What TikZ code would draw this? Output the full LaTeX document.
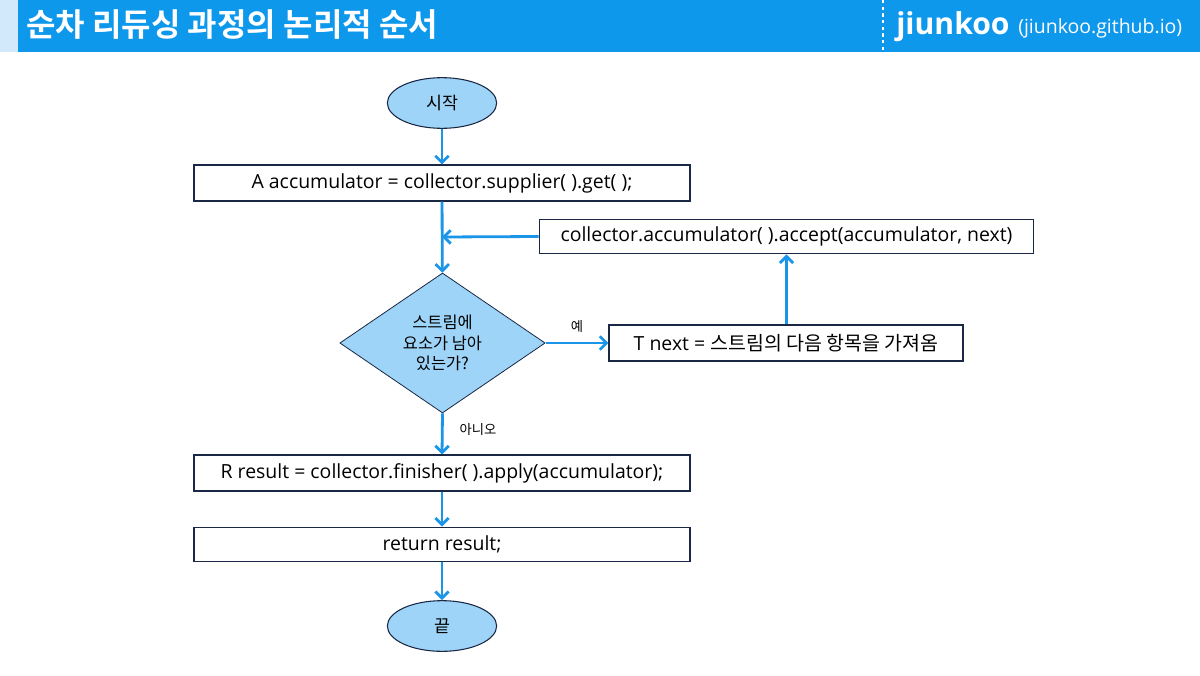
\documentclass[tikz,border=0pt]{standalone}
\usepackage{fontspec}
\setmainfont{Open Sans}
\newfontfamily\kr{Noto Sans CJK KR}[BoldFont={* Bold}]
\usetikzlibrary{shapes.geometric,arrows.meta}
\definecolor{hdrblue}{HTML}{0E98EC}
\definecolor{hdrlight}{HTML}{D2E9FB}
\definecolor{nodefill}{HTML}{9ED4F7}
\definecolor{edgecol}{HTML}{1A2845}
\definecolor{arrowcol}{HTML}{1A95E8}
\tikzset{
  procbox/.style={draw=edgecol, line width=0.8pt, fill=white, minimum height=27pt, inner sep=0pt, font=\fontsize{14.6}{16}\selectfont},
  termnode/.style={ellipse, draw=edgecol, line width=0.8pt, fill=nodefill, minimum width=82pt, minimum height=38pt, inner sep=0pt, font=\kr\fontsize{13}{15}\selectfont},
  decnode/.style={diamond, draw=edgecol, line width=0.6pt, fill=nodefill, minimum width=154pt, minimum height=105pt, inner sep=0pt, aspect=1.46, align=center, font=\kr\fontsize{12.3}{15.5}\selectfont},
  flow/.style={draw=arrowcol, line width=2.1pt, -{Straight Barb[length=5pt,width=10pt,line width=2.1pt]}},
  lbl/.style={font=\kr\fontsize{10}{12}\selectfont, inner sep=0pt}
}
\begin{document}
\begin{tikzpicture}[x=0.75pt,y=-0.75pt]
\useasboundingbox (0,0) rectangle (1200,675);
\fill[white] (0,0) rectangle (1200,675);
% header
\fill[hdrlight] (0,0) rectangle (18,52);
\fill[hdrblue] (18,0) rectangle (1200,52);
\draw[white, line width=2.2pt, dash pattern=on 2.5pt off 2.5pt] (883,0) -- (883,50);
\node[anchor=west, text=white, inner sep=0pt, font=\kr\bfseries\fontsize{24}{26}\selectfont] (title) at (26,25) {순차 리듀싱 과정의 논리적 순서};
\node[anchor=west, text=white, inner sep=0pt, font=\bfseries\fontsize{22.6}{24}\selectfont] (brand) at (896,27) {jiunkoo};
\node[anchor=west, text=white, inner sep=0pt, font=\fontsize{14.6}{16}\selectfont] (url) at (1018,28) {(jiunkoo.github.io)};
% nodes
\node[termnode] (start) at (442,103) {시작};
\node[procbox, minimum width=372pt] (init) at (442,183) {A accumulator = collector.supplier( ).get( );};
\coordinate (join) at (442,237);
\node[procbox, minimum width=371pt, minimum height=26pt] (accept) at (786.5,236.5) {collector.accumulator( ).accept(accumulator, next)};
\node[decnode] (dec) at (442.5,343) {스트림에\\요소가 남아\\있는가?};
\node[procbox, minimum width=265.5pt] (next) at (786,343) {T next = {\kr 스트림의 다음 항목을 가져옴}};
\node[procbox, minimum width=372pt] (result) at (442,473) {R result = collector.finisher( ).apply(accumulator);};
\node[procbox, minimum width=372pt, minimum height=26pt] (ret) at (442,544.5) {return result;};
\node[termnode] (end) at (442,626) {끝};
% connectors
\draw[flow] (start) -- (init);
\draw[flow] (init) -- (dec);
\draw[flow] (accept.west) -- (join);
\draw[flow] (dec.east) -- node[lbl, above=7pt, pos=0.5] (yes) {예} (next.west);
\draw[flow] (next.north -| accept.south) -- (accept.south);
\draw[flow] (dec.south) -- node[lbl, right=12pt, pos=0.4] (no) {아니오} (result.north);
\draw[flow] (result) -- (ret);
\draw[flow] (ret) -- (end);
\end{tikzpicture}
\end{document}
